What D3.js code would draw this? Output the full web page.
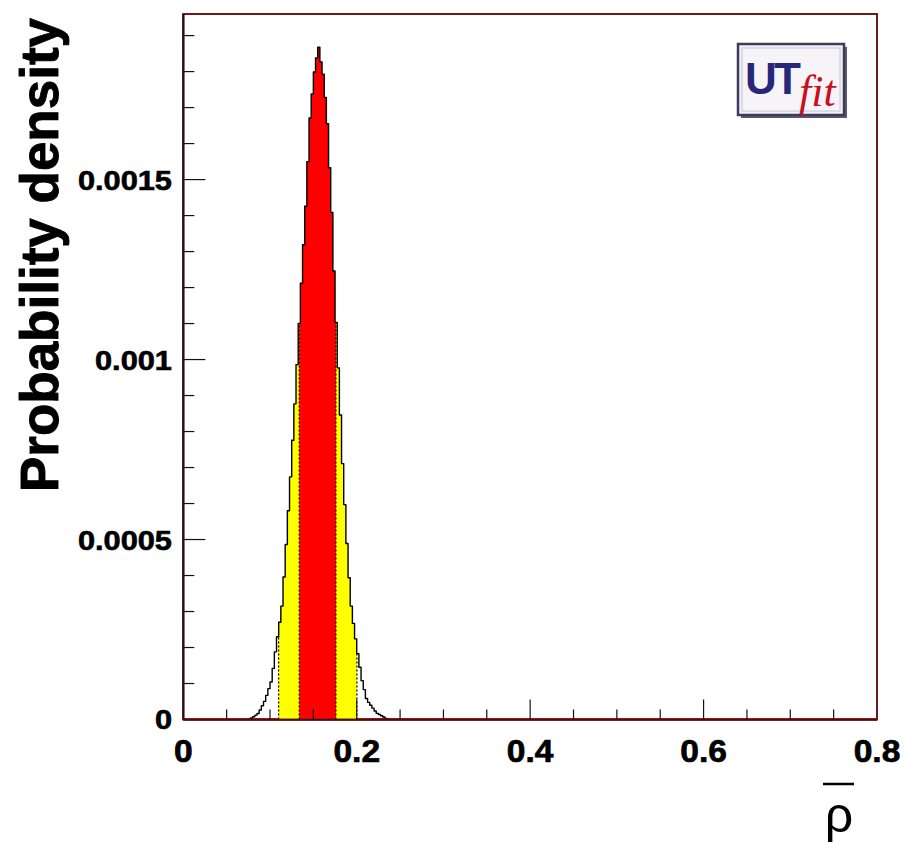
<!DOCTYPE html>
<html>
<head>
<meta charset="utf-8">
<script src="https://cdn.jsdelivr.net/npm/d3@7"></script>
<style>
  html, body { margin: 0; padding: 0; background: #ffffff; }
  svg { display: block; }
</style>
</head>
<body>
<svg id="chart" width="905" height="844"></svg>
<script>
// ---------------- DATA ----------------
const binStart = 0.075;      // left edge of first histogram bin
const binStep = 0.0025;      // bin width
const density = [
  0.0000010, 0.0000042, 0.0000078, 0.0000121, 0.0000166, 0.0000264, 0.0000384, 0.0000504,
  0.0000670, 0.0000857, 0.000104, 0.000142, 0.000188, 0.000230, 0.000270, 0.000315,
  0.000396, 0.000486, 0.000580, 0.000674, 0.000776, 0.000877, 0.000986, 0.001100,
  0.001212, 0.001319, 0.001426, 0.001550, 0.001671, 0.001738, 0.001799, 0.001838,
  0.001868,
  0.001827, 0.001793, 0.001728, 0.001655, 0.001533, 0.001409, 0.001246, 0.001103,
  0.000977, 0.000846, 0.000711, 0.000597, 0.000489, 0.000394, 0.000315, 0.000267,
  0.000224, 0.000183, 0.000145, 0.000108, 0.000083, 0.0000585, 0.0000475, 0.0000395,
  0.0000315, 0.0000236, 0.0000170, 0.0000137, 0.0000103, 0.0000068, 0.0000030, 0.0000010
];
const interval68 = [0.1337, 0.1760];
const interval95 = [0.1099, 0.2002];
const xDomain = [0, 0.8];
const yDomain = [0, 0.00196];
const xMajorTicks = [0, 0.2, 0.4, 0.6, 0.8];
const xTickLabels = ["0", "0.2", "0.4", "0.6", "0.8"];
const yMajorTicks = [0, 0.0005, 0.001, 0.0015];
const yTickLabels = ["0", "0.0005", "0.001", "0.0015"];
const xMinorStep = 0.05;
const yMinorStep = 0.0001;
const yTitle = "Probability density";
const xTitle = "ρ";

// ---------------- LAYOUT ----------------
const svg = d3.select("#chart");
const L = 183.3, R = 877, T = 14, B = 719.5;
const x = d3.scaleLinear().domain(xDomain).range([L, R]);
const y = d3.scaleLinear().domain(yDomain).range([B, T]);

const bins = density.map((v, i) => ({ x0: binStart + i * binStep, x1: binStart + (i + 1) * binStep, v }));

function stepPoints(a, b) {
  const pts = [];
  bins.forEach(bn => {
    const lo = Math.max(bn.x0, a), hi = Math.min(bn.x1, b);
    if (hi > lo) { pts.push([lo, bn.v]); pts.push([hi, bn.v]); }
  });
  return pts;
}
function valueAt(xv) {
  const bn = bins.find(b => xv >= b.x0 && xv < b.x1);
  return bn ? bn.v : 0;
}

const area = d3.area().x(d => x(d[0])).y0(y(0)).y1(d => y(d[1]));

// baseline (red zero line of histogram)
svg.append("line")
  .attr("x1", x(xDomain[0])).attr("x2", x(xDomain[1]))
  .attr("y1", y(0) - 0.5).attr("y2", y(0) - 0.5)
  .attr("stroke", "#e00000").attr("stroke-width", 2);

// 95% yellow
svg.append("path").datum(stepPoints(interval95[0], interval95[1]))
  .attr("d", area).attr("fill", "#ffff00");
// 68% red
svg.append("path").datum(stepPoints(interval68[0], interval68[1]))
  .attr("d", area).attr("fill", "#ff0000");

// dashed boundary lines
[interval95[0], interval68[0], interval68[1], interval95[1]].forEach(b => {
  svg.append("line")
    .attr("x1", x(b)).attr("x2", x(b))
    .attr("y1", y(0)).attr("y2", y(valueAt(b)))
    .attr("stroke", "#000").attr("stroke-width", 1.2)
    .attr("stroke-dasharray", "2,2");
});

// outline
const outlinePts = [[bins[0].x0, 0]].concat(stepPoints(bins[0].x0, bins[bins.length - 1].x1))
  .concat([[bins[bins.length - 1].x1, 0]]);
svg.append("path").datum(outlinePts)
  .attr("d", d3.line().x(d => x(d[0])).y(d => y(d[1])))
  .attr("fill", "none").attr("stroke", "#000").attr("stroke-width", 1.4)
  .attr("stroke-linejoin", "round");

// frame
svg.append("rect")
  .attr("x", L).attr("y", T).attr("width", R - L).attr("height", B - T)
  .attr("fill", "none").attr("stroke", "#6a1c1c").attr("stroke-width", 2);
svg.append("line").attr("x1", L).attr("x2", L).attr("y1", T).attr("y2", B)
  .attr("stroke", "#2a1010").attr("stroke-width", 2.2);
svg.append("line").attr("x1", L).attr("x2", R).attr("y1", B + 0.5).attr("y2", B + 0.5)
  .attr("stroke", "#3a0e0e").attr("stroke-width", 1.5);

// ticks
const tickColor = "#111";
const xMinor = d3.range(xDomain[0], xDomain[1] + 1e-9, xMinorStep);
xMinor.forEach(t => {
  const major = xMajorTicks.some(m => Math.abs(m - t) < 1e-9);
  if (t <= 0 || t >= xDomain[1]) return;
  svg.append("line").attr("x1", x(t)).attr("x2", x(t))
    .attr("y1", B).attr("y2", B - (major ? 20 : 10))
    .attr("stroke", tickColor).attr("stroke-width", 1.2);
});
const yMinor = d3.range(0, yDomain[1], yMinorStep);
yMinor.forEach(t => {
  const major = yMajorTicks.some(m => Math.abs(m - t) < 1e-9);
  if (t <= 0) return;
  svg.append("line").attr("x1", L).attr("x2", L + (major ? 22 : 11))
    .attr("y1", y(t)).attr("y2", y(t))
    .attr("stroke", tickColor).attr("stroke-width", 1.2);
});

// tick labels
const fontFam = "'Liberation Sans', Arial, Helvetica, sans-serif";
xMajorTicks.forEach((t, i) => {
  svg.append("text").attr("x", x(t)).attr("y", 762)
    .attr("text-anchor", "middle")
    .attr("font-family", fontFam).attr("font-weight", "bold").attr("font-size", 32)
    .attr("stroke", "#000").attr("stroke-width", 0.7)
    .attr("transform", `translate(${x(t)},0) scale(1.05,1) translate(${-x(t)},0)`)
    .text(xTickLabels[i]);
});
yMajorTicks.forEach((t, i) => {
  svg.append("text").attr("x", 172).attr("y", y(t) + 10)
    .attr("text-anchor", "end")
    .attr("font-family", fontFam).attr("font-weight", "bold").attr("font-size", 27)
    .attr("stroke", "#000").attr("stroke-width", 0.6)
    .attr("transform", `translate(172,0) scale(1.14,1) translate(-172,0)`)
    .text(yTickLabels[i]);
});

// axis titles
svg.append("text")
  .attr("transform", "translate(58,255) rotate(-90)")
  .attr("text-anchor", "middle")
  .attr("font-family", fontFam).attr("font-weight", "bold").attr("font-size", 53)
  .attr("stroke", "#000").attr("stroke-width", 0.9)
  .text(yTitle);

const rhoX = 839;
svg.append("text").attr("x", rhoX).attr("y", 832)
  .attr("text-anchor", "middle")
  .attr("font-family", fontFam).attr("font-size", 50)
  .text(xTitle);
svg.append("line").attr("x1", rhoX - 16).attr("x2", rhoX + 15)
  .attr("y1", 784).attr("y2", 784)
  .attr("stroke", "#000").attr("stroke-width", 2.5);

// UTfit logo
const logo = svg.append("g");
logo.append("rect").attr("x", 741).attr("y", 47).attr("width", 106).attr("height", 71)
  .attr("fill", "#5a5a6a");
logo.append("rect").attr("x", 738).attr("y", 44).attr("width", 106).attr("height", 71)
  .attr("fill", "#f3f1f7").attr("stroke", "#3c3c5c").attr("stroke-width", 2.5);
logo.append("rect").attr("x", 742).attr("y", 48).attr("width", 98).attr("height", 63)
  .attr("fill", "#f7f4f8").attr("stroke", "#c8c4d8").attr("stroke-width", 1);
logo.append("text").attr("x", 745).attr("y", 94)
  .attr("font-family", fontFam).attr("font-weight", "bold").attr("font-size", 44)
  .attr("fill", "#28287a").attr("textLength", 56)
  .text("UT");
logo.append("text").attr("x", 799).attr("y", 106)
  .attr("font-family", "'Liberation Serif', 'Times New Roman', serif").attr("font-style", "italic")
  .attr("font-size", 44).attr("fill", "#c41020")
  .text("fit");
</script>
</body>
</html>
